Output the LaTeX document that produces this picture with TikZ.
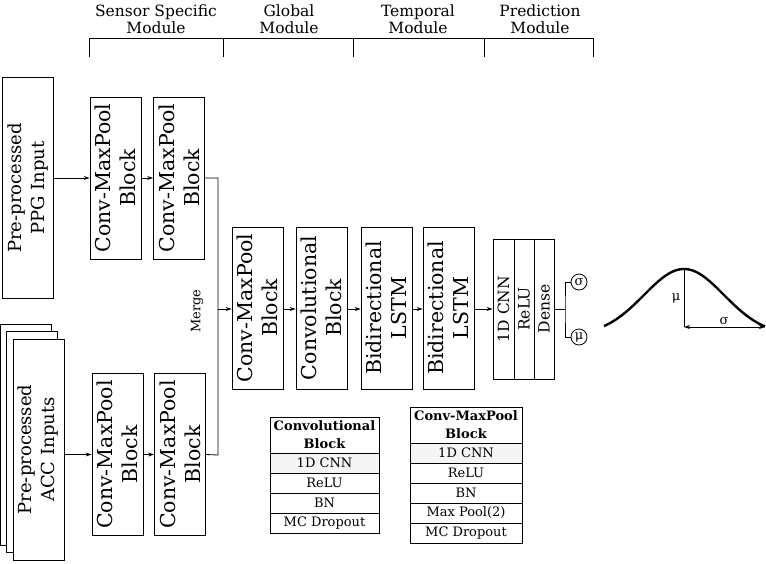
\documentclass[tikz,border=0pt]{standalone}
\usepackage{fontspec}
\setmainfont{DejaVu Serif}
\usepackage{tikz}
\usetikzlibrary{arrows.meta,positioning,calc}

\begin{document}
\begin{tikzpicture}[
    x=1pt, y=-1pt,
    line width=0.8pt,
    blk/.style={draw, rotate=90, minimum width=162pt, minimum height=51pt, align=center, inner sep=1pt, font=\fontsize{20.5}{25}\selectfont},
    inp/.style={draw, fill=white, rotate=90, minimum width=221pt, minimum height=51pt, align=center, inner sep=1pt, font=\fontsize{18}{23}\selectfont},
    pred/.style={draw, rotate=90, minimum width=140pt, minimum height=20pt, inner sep=0pt, font=\fontsize{15.5}{17}\selectfont},
    outc/.style={draw, circle, minimum size=16pt, inner sep=0pt, font=\fontsize{13}{14}\selectfont},
    hdr/.style={align=center, font=\fontsize{15.5}{17}\selectfont},
    trow/.style={draw, minimum height=20pt, inner sep=0pt, outer sep=0pt, font=\fontsize{13}{15}\selectfont},
    ttitle/.style={draw, minimum height=36pt, inner sep=0pt, outer sep=0pt, align=center, font=\bfseries\fontsize{13}{18}\selectfont},
    arr/.style={-{Stealth[length=6pt, width=4pt]}}
]
\useasboundingbox (0,0) rectangle (766,563);

% module headers
\node[hdr] (hSensor) at (156,19) {Sensor Specific\\Module};
\node[hdr] (hGlobal) at (289,19) {Global\\Module};
\node[hdr] (hTemporal) at (418,19) {Temporal\\Module};
\node[hdr] (hPred) at (540,19) {Prediction\\Module};
\draw (89,57) -- (89,38) -- (593,38) -- (593,57);
\foreach \xx in {223,353,484} \draw (\xx,38) -- (\xx,57);

% inputs
\node[inp] (ppgIn) at (28,188) {Pre-processed\\PPG Input};
\node[inp] (accBack) at (26,435) {};
\node[inp] (accMid) at (32,442) {};
\node[inp] (accIn) at (38.5,449.5) {Pre-processed\\ACC Inputs};

% sensor specific blocks
\node[blk] (ppgA) at (115.5,178) {Conv-MaxPool\\Block};
\node[blk] (ppgB) at (179,178) {Conv-MaxPool\\Block};
\node[blk] (accA) at (117.5,454.5) {Conv-MaxPool\\Block};
\node[blk] (accB) at (180,454.5) {Conv-MaxPool\\Block};

% global + temporal
\node[blk] (glbA) at (257.5,308) {Conv-MaxPool\\Block};
\node[blk] (glbB) at (321.5,308) {Convolutional\\Block};
\node[blk] (tmpA) at (386.5,308) {Bidirectional\\LSTM};
\node[blk] (tmpB) at (448.5,308) {Bidirectional\\LSTM};

% prediction
\node[pred, minimum height=21pt] (predA) at (503.5,309) {1D CNN};
\node[pred] (predB) at (524,309) {ReLU};
\node[pred] (predC) at (544,309) {Dense};
\node[outc] (sig) at (579,282) {σ};
\node[outc] (mu) at (579,337) {μ};

% connectors
\coordinate (mrgTop) at (218,178);
\coordinate (mrg) at (218,309);
\coordinate (mrgBot) at (218,455);
\draw[arr] (ppgIn.south |- ppgA) -- (ppgA.north);
\draw[arr] (ppgA.south) -- (ppgB.north);
\draw[arr] (accIn.south |- accA) -- (accA.north);
\draw[arr] (accA.south) -- (accB.north);
\draw (ppgB.south) -- (mrgTop) -- (mrgBot) -- (accB.south);
\draw[arr] (mrg) -- (glbA.north |- mrg);
\node[rotate=90, font=\fontsize{13}{14}\selectfont] (mrgLbl) at (197,311) {Merge};
\draw[arr] (glbA.south |- mrg) -- (glbB.north |- mrg);
\draw[arr] (glbB.south |- mrg) -- (tmpA.north |- mrg);
\draw[arr] (tmpA.south |- mrg) -- (tmpB.north |- mrg);
\draw[arr] (tmpB.south |- mrg) -- (predA.north);
\coordinate (split) at (565,309);
\draw (predC.south) -- (split);
\draw (sig.west) -| (split) |- (mu.west);

% gaussian
\draw[line width=2.4pt] plot[domain=-80:81, samples=80, smooth] ({684+\x},{335-66*exp(-(\x*\x)/3200)});
\coordinate (peak) at (684,269);
\coordinate (base) at (684,327);
\coordinate (tail) at (765,327);
\draw (peak) -- (base);
\draw[{Stealth[length=6pt, width=4pt]}-{Stealth[length=6pt, width=4pt]}] (base) -- (tail);
\node[font=\fontsize{13}{14}\selectfont] (muLbl) at (676,298) {μ};
\node[font=\fontsize{13}{14}\selectfont] (sigLbl) at (724,321) {σ};

% legend tables
\node[ttitle, minimum width=109pt, anchor=north west] (cTitle) at (270,417) {Convolutional\\Block};
\node[trow, minimum width=109pt, fill=gray!8, below=0pt of cTitle] (cRow1) {1D CNN};
\node[trow, minimum width=109pt, below=0pt of cRow1] (cRow2) {ReLU};
\node[trow, minimum width=109pt, below=0pt of cRow2] (cRow3) {BN};
\node[trow, minimum width=109pt, below=0pt of cRow3] (cRow4) {MC Dropout};

\node[ttitle, minimum width=112pt, anchor=north west] (mTitle) at (410,407) {Conv-MaxPool\\Block};
\node[trow, minimum width=112pt, fill=gray!8, below=0pt of mTitle] (mRow1) {1D CNN};
\node[trow, minimum width=112pt, below=0pt of mRow1] (mRow2) {ReLU};
\node[trow, minimum width=112pt, below=0pt of mRow2] (mRow3) {BN};
\node[trow, minimum width=112pt, below=0pt of mRow3] (mRow4) {Max Pool(2)};
\node[trow, minimum width=112pt, below=0pt of mRow4] (mRow5) {MC Dropout};
\end{tikzpicture}
\end{document}
